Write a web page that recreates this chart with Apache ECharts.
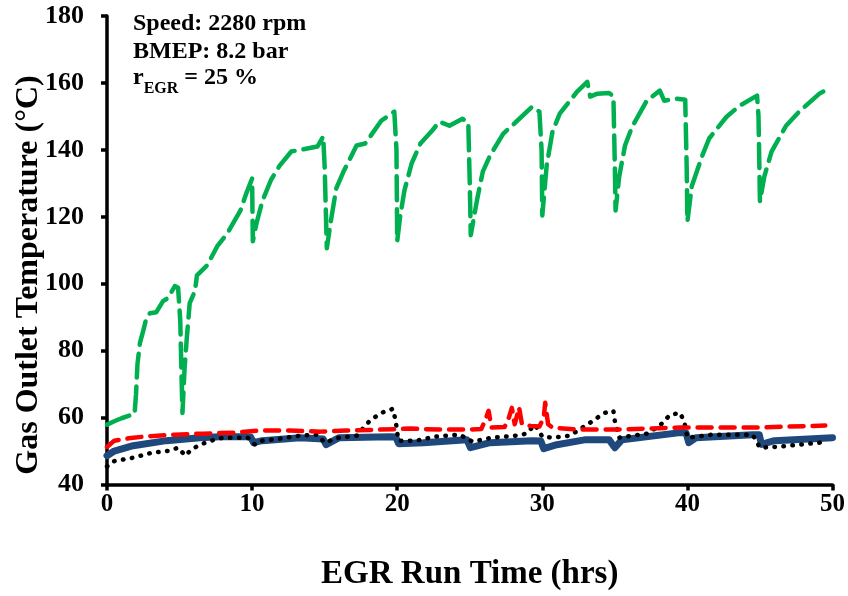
<!DOCTYPE html>
<html>
<head>
<meta charset="utf-8">
<script src="https://cdn.jsdelivr.net/npm/echarts@6/dist/echarts.min.js"></script>
<style>html,body{margin:0;padding:0;background:#fff}#c{width:848px;height:596px}</style>
</head>
<body>
<div id="c"></div>
<script>
var xTicks = [0, 10, 20, 30, 40, 50];
var yTicks = [40, 60, 80, 100, 120, 140, 160, 180];

var blueData = [[0,48.6],[0.5,50],[1.8,51.6],[4.1,53.1],[6.4,54.0],[7.8,54.3],[9.6,54.3],[9.9,54.2],[10.1,52.5],[10.7,53.1],[13.3,54.0],[14.9,53.6],[15.1,51.9],[16,54.0],[19.5,54.3],[19.9,54.2],[20.1,52.2],[21.8,52.5],[24.8,53.4],[25.05,51.0],[26.4,52.5],[29.3,53.1],[29.9,53],[30.1,50.7],[31,51.9],[33,53.4],[34.6,53.4],[35.0,51.0],[35.5,53.4],[39.5,55.5],[39.9,55.5],[40.1,52.5],[40.6,54.0],[44.5,54.9],[44.95,54.9],[45.1,52],[46,53.1],[50,54.0]];

var blackData = [[0,45.4],[0.4,46.9],[1.8,48.0],[3.1,49.5],[4.3,50.1],[4.9,51.0],[5.4,48.6],[5.8,50.4],[6.4,51.9],[7.4,53.4],[8,54],[9.7,54.0],[10.2,51.9],[10.7,53.1],[11.9,53.7],[13.3,54.6],[14.5,54.9],[15.0,52.5],[16,54.0],[17.2,54.6],[18.1,59.0],[18.9,61.4],[19.7,62.6],[19.9,59],[20.0,55.5],[20.1,53.1],[21.3,53.1],[22.6,54.3],[24.3,54.9],[25.2,52.8],[26.5,54.0],[28.2,54.6],[28.9,55.2],[29.5,57.9],[30,54.3],[30.7,54.0],[31.9,54.6],[33.1,57.9],[33.6,59.4],[34.3,61.4],[34.9,62.0],[35.0,59],[35.3,54.0],[37.2,55.2],[38.1,57.6],[38.8,60.8],[39.5,61.4],[39.8,58.5],[40,54.0],[41.7,54.9],[44.5,54.9],[45,51.0],[46.3,51.3],[49.1,52.5],[49.5,53]];

var redData = [[0,51.2],[0.5,53.1],[1.5,53.8],[2.5,54.3],[4.7,54.9],[6.6,55.2],[8.7,55.5],[10.5,56.1],[12.6,56.1],[14.7,55.8],[16.5,56.1],[18.8,56.4],[20.9,56.7],[22.9,56.4],[24.8,56.4],[25.8,56.6],[26.1,59.6],[26.3,62.0],[26.5,57],[27.4,57.2],[27.7,60],[27.9,62.9],[28.1,58],[28.4,63],[28.6,58],[29.2,57.5],[29.8,57.3],[30.1,60],[30.2,64.4],[30.4,58],[30.7,57.0],[32.6,56.4],[34.8,56.4],[37.2,56.7],[39.5,57.0],[41.3,57.0],[43.1,57.0],[45,57.0],[46.8,57.3],[49.5,57.6]];

var greenData = [[0,57.9],[0.5,58.9],[1,59.8],[1.9,61.1],[2.0,67],[2.1,76],[2.27,82.3],[2.5,86],[2.7,89.5],[2.96,91.2],[3.4,91.5],[3.86,94.8],[4.2,95.7],[4.68,99.3],[4.9,98.8],[5.05,88.8],[5.15,70],[5.2,61.4],[5.35,75],[5.5,83.8],[5.7,94.2],[6.06,97.8],[6.2,102.5],[6.9,105.5],[7.6,111.2],[8.3,115.1],[9.2,121.9],[9.6,127],[10.0,131.4],[10.05,112.7],[10.3,118],[10.7,124.6],[11.3,131],[11.9,135.3],[12.7,139.5],[13.8,140.4],[14.5,141],[14.9,144],[15.0,135],[15.15,110.6],[15.4,118],[15.8,128.5],[16.3,133.5],[17.2,141.3],[17.8,141.9],[18.3,145],[18.9,148.7],[19.8,151.4],[19.95,140],[20.0,112.7],[20.2,120],[20.5,127.9],[21.0,136],[21.6,141.9],[22.4,145.7],[22.9,148.4],[23.6,147.2],[24.5,149.3],[24.9,148],[25.0,130],[25.07,114.5],[25.5,125],[25.9,133.5],[26.4,138.3],[27.3,144.8],[28.2,148.4],[29.3,152.9],[29.8,151.4],[29.95,140],[30.0,120.4],[30.3,135.3],[30.7,145.4],[31.2,150.8],[32.4,157.4],[33.1,160.3],[33.3,155.9],[33.8,156.8],[34.6,157],[34.9,156],[35.0,135],[35.05,121.9],[35.3,132],[35.7,141.3],[36.2,147.0],[37.2,154.7],[38.1,157.7],[38.4,154.7],[39.3,155.3],[39.85,155],[39.95,135],[40.0,118.6],[40.3,129.1],[41.0,138.0],[41.5,143.4],[42.7,149.9],[43.6,153.2],[44.8,156.2],[44.9,150],[45.0,124.6],[45.3,132],[45.8,139.5],[46.8,147.2],[47.7,151.4],[49.1,156.8],[49.4,157.5]];

var FONT = '"Liberation Serif", "Times New Roman", serif';
var chart = echarts.init(document.getElementById('c'));
chart.setOption({
  animation: false,
  backgroundColor: '#fff',
  grid: {left: 107, right: 15, top: 16, bottom: 109, containLabel: false},
  xAxis: {
    type: 'value', min: xTicks[0], max: xTicks[xTicks.length-1], interval: 10,
    name: 'EGR Run Time (hrs)', nameLocation: 'middle', nameGap: 90,
    nameTextStyle: {fontFamily: FONT, fontWeight: 'bold', fontSize: 33, color: '#000', verticalAlign: 'middle'},
    axisLine: {show: true, onZero: false, lineStyle: {color: '#000', width: 3.5}},
    axisTick: {show: true, inside: false, length: 6, lineStyle: {color: '#000', width: 3.5}},
    axisLabel: {fontFamily: FONT, fontWeight: 'bold', fontSize: 25, color: '#000', margin: 8},
    splitLine: {show: false}
  },
  yAxis: {
    type: 'value', min: yTicks[0], max: yTicks[yTicks.length-1], interval: 20,
    axisLine: {show: true, onZero: false, lineStyle: {color: '#000', width: 3.5}},
    axisTick: {show: true, inside: false, length: 6, lineStyle: {color: '#000', width: 3.5}},
    axisLabel: {fontFamily: FONT, fontWeight: 'bold', fontSize: 26, color: '#000', margin: 23},
    splitLine: {show: false}
  },
  graphic: [
    {type: 'text', x: 29, y: 275, rotation: Math.PI / 2,
     style: {text: 'Gas Outlet Temperature (°C)', font: 'bold 32px ' + FONT, fill: '#000', align: 'center', verticalAlign: 'middle'}},
    {type: 'text', left: 133, top: 12, style: {text: 'Speed: 2280 rpm', font: 'bold 24px ' + FONT, fill: '#000'}},
    {type: 'text', left: 133, top: 40, style: {text: 'BMEP: 8.2 bar', font: 'bold 24px ' + FONT, fill: '#000'}},
    {type: 'text', left: 133, top: 66, style: {
      text: '{r|r}{s|EGR}{r| = 25 %}',
      rich: {
        r: {fontFamily: FONT, fontWeight: 'bold', fontSize: 24, fill: '#000', color: '#000', verticalAlign: 'bottom', lineHeight: 28},
        s: {fontFamily: FONT, fontWeight: 'bold', fontSize: 16, fill: '#000', color: '#000', verticalAlign: 'bottom', lineHeight: 16, padding: [0,0,-7,0]}
      }
    }}
  ],
  series: [
    {type: 'line', data: blueData, symbol: 'none', smooth: false,
     lineStyle: {color: '#1F497D', width: 7, cap: 'round', join: 'round'}},
    {type: 'line', data: blackData, symbol: 'none',
     lineStyle: {color: '#000', width: 4.5, type: [0.5, 8.5], cap: 'round', join: 'round'}},
    {type: 'line', data: redData, symbol: 'none',
     lineStyle: {color: '#FF0000', width: 4.5, type: [14, 9], cap: 'round', join: 'round'}},
    {type: 'line', data: greenData, symbol: 'none',
     lineStyle: {color: '#00B050', width: 4.5, type: [24, 9], cap: 'round', join: 'round'}}
  ]
});
</script>
</body>
</html>
